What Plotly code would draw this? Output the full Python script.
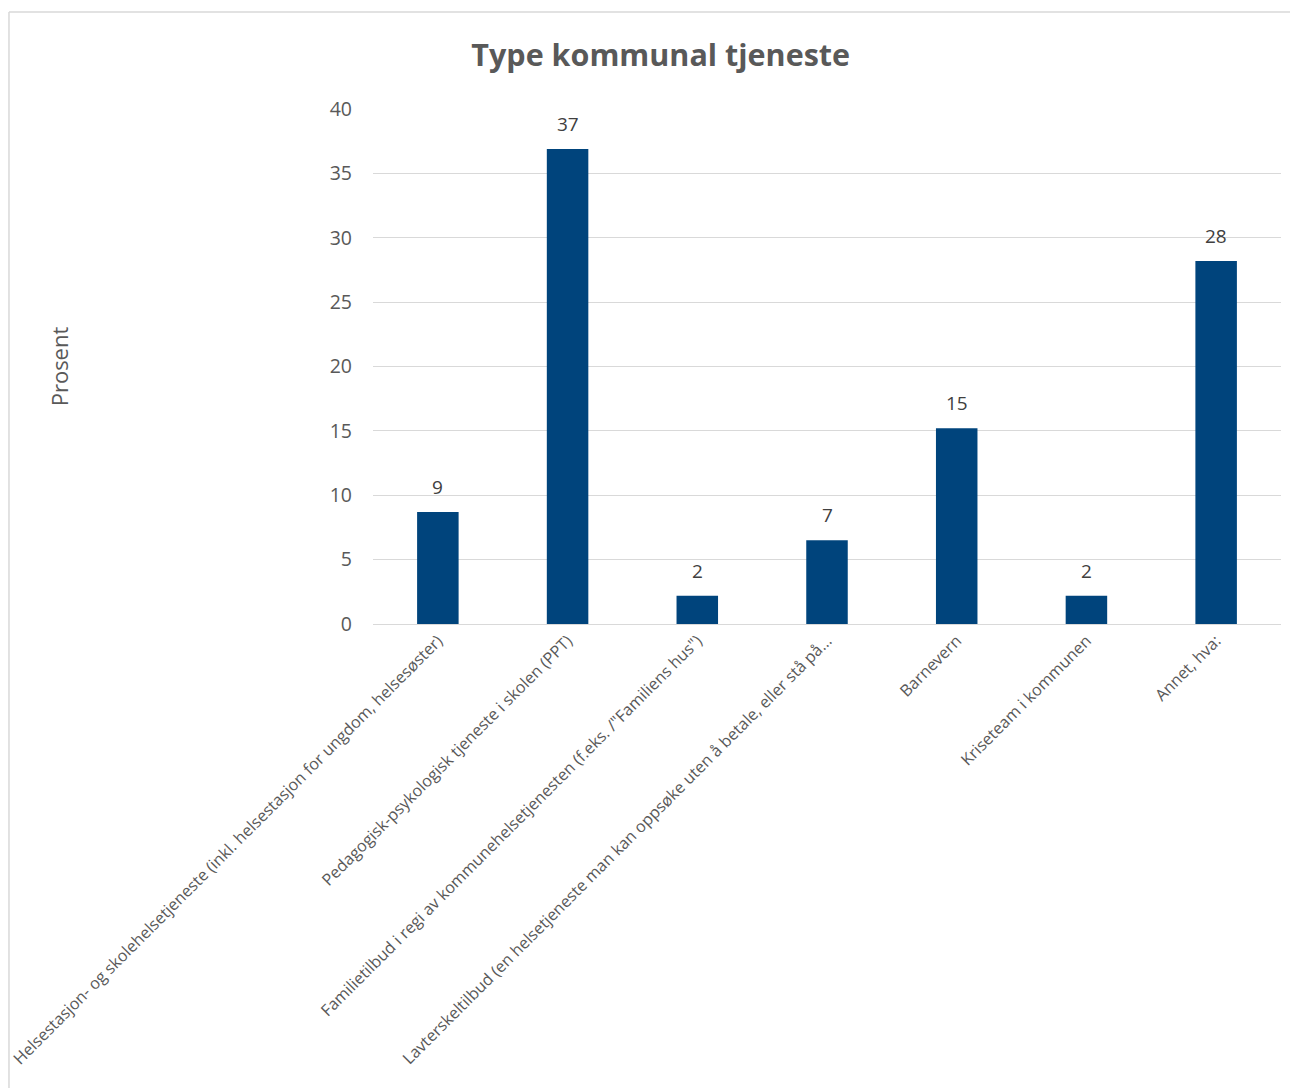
import plotly.graph_objects as go

categories = [
    "Helsestasjon- og skolehelsetjeneste (inkl. helsestasjon for ungdom, helsesøster)",
    "Pedagogisk-psykologisk tjeneste i skolen (PPT)",
    "Familietilbud i regi av kommunehelsetjenesten (f.eks. /\"Familiens hus\")",
    "Lavterskeltilbud (en helsetjeneste man kan oppsøke uten å betale, eller stå på...",
    "Barnevern",
    "Kriseteam i kommunen",
    "Annet, hva:",
]
values = [8.7, 36.9, 2.2, 6.5, 15.2, 2.2, 28.2]
labels = ["9", "37", "2", "7", "15", "2", "28"]
y_ticks = [0, 5, 10, 15, 20, 25, 30, 35, 40]

fig = go.Figure(go.Bar(
    x=categories,
    y=values,
    marker=dict(color="#00447C", line=dict(width=0)),
    hoverinfo="x+y",
))

for c, v, t in zip(categories, values, labels):
    fig.add_annotation(x=c, y=v, text=t, showarrow=False, yanchor="bottom",
                       yshift=10, font=dict(size=19, color="#404040"))

fig.update_layout(
    width=1290, height=1080,
    paper_bgcolor="white", plot_bgcolor="white",
    font=dict(family="Open Sans", color="#595959"),
    title=dict(text="<b>Type kommunal tjeneste</b>", x=0.506, xanchor="center",
               y=0.956, yanchor="middle", font=dict(size=30.5, color="#595959")),
    margin=dict(l=365, r=17, t=101, b=464),
    bargap=0.68,
    showlegend=False,
    shapes=[
        dict(type="line", xref="paper", yref="paper", x0=-0.4009, x1=1.0187,
             y0=1.1883, y1=1.1883, line=dict(color="#d9d9d9", width=1.5)),
        dict(type="line", xref="paper", yref="paper", x0=-0.4009, x1=-0.4009,
             y0=1.1883, y1=-0.901, line=dict(color="#d9d9d9", width=1.5)),
    ],
)
fig.update_xaxes(tickangle=-45, tickfont=dict(size=16.2, color="#595959"),
                 showline=True, linecolor="#d9d9d9", linewidth=1, ticks="",
                 automargin=False)
fig.update_yaxes(range=[0, 40], tickvals=y_ticks, tickfont=dict(size=19.5, color="#595959"),
                 showgrid=True, gridcolor="#d9d9d9", gridwidth=1, zeroline=False,
                 title=dict(text="Prosent", font=dict(size=22, color="#595959"), standoff=254),
                 automargin=False, ticklabelstandoff=20)

fig.write_html("out.html")
